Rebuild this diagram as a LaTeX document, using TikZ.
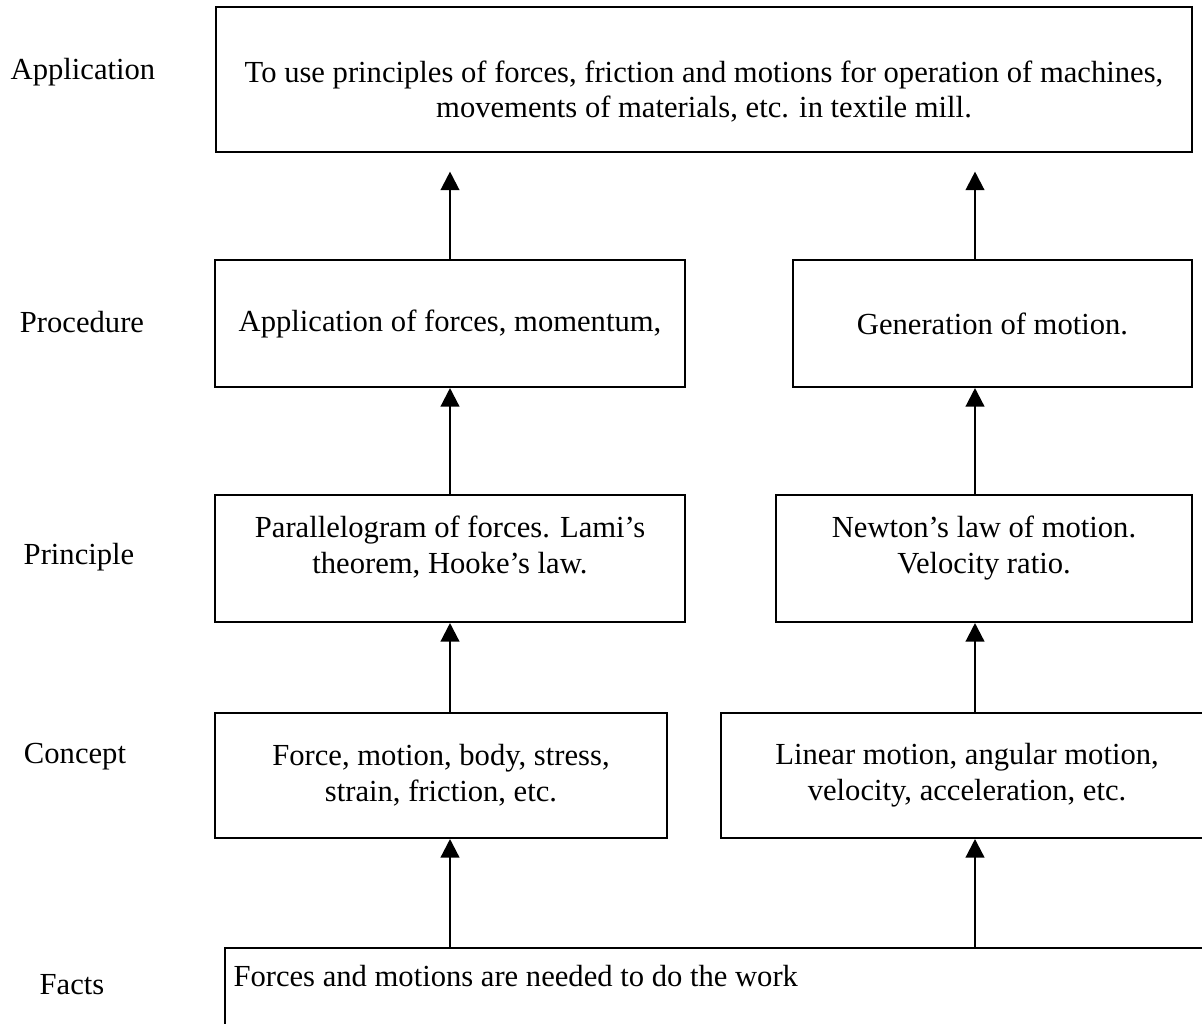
\documentclass[tikz,border=0pt]{standalone}
\usepackage{fontspec}
\setmainfont{Liberation Serif}
\usetikzlibrary{arrows.meta, positioning}

\begin{document}
\begin{tikzpicture}[x=0.392pt,y=-0.392pt,>={Triangle[width=7.4pt,length=7.3pt]},
        every node/.style={font=\fontsize{12}{14}\selectfont},
        level/.style={inner sep=0pt},
        box/.style={draw, line width=0.8pt, inner sep=0pt, align=center, minimum height=49.8pt},
        up/.style={->, line width=0.6pt}]

  \useasboundingbox (0,0) rectangle (1202,1023);
  \clip (0,0) rectangle (1202,1023);

  % level names on the left
  \node[level] (app)   at (83,72)  {Application};
  \node[level] (proc)  at (82,322) {Procedure};
  \node[level] (prin)  at (79,557) {Principle};
  \node[level] (conc)  at (75,757) {Concept};
  \node[level] (fact)  at (72,985) {Facts};

  % boxes
  \node[box, minimum width=382.6pt, minimum height=56.8pt] (goal) at (704,79.5)
    {\mbox{}\\[4pt]To use principles of forces, friction and motions for operation of machines,\\
     movements of materials, etc. in textile mill.};
  \node[box, minimum width=184.2pt] (procL) at (450,323.5) {Application of forces, momentum,};
  \node[box, minimum width=156.4pt] (procR) at (992.5,323.5) {Generation of motion.};
  \node[box, minimum width=184.2pt] (prinL) at (450,558.5)
    {Parallelogram of forces. Lami’s\\ theorem, Hooke’s law.\\[-3pt]\mbox{}};
  \node[box, minimum width=163.1pt] (prinR) at (984,558.5)
    {Newton’s law of motion.\\ Velocity ratio.\\[-3pt]\mbox{}};
  \node[box, minimum width=177.2pt, minimum height=49pt] (concL) at (441,775.5)
    {Force, motion, body, stress,\\ strain, friction, etc.};
  \node[box, minimum width=192.9pt, minimum height=49pt] (concR) at (967,775.5)
    {Linear motion, angular motion,\\ velocity, acceleration, etc.};
  \node[box, minimum width=397.9pt, minimum height=43.9pt] (facts) at (732.5,1004) {};
  \node[level, anchor=west] (factText) at (233,976) {Forces and motions are needed to do the work};

  % arrow columns
  \coordinate (colL) at (450,0);
  \coordinate (colR) at (975,0);

  \draw[up] (facts.north -| colL) -- (concL.south -| colL);
  \draw[up] (facts.north -| colR) -- (concR.south -| colR);
  \draw[up] (concL.north -| colL) -- (prinL.south -| colL);
  \draw[up] (concR.north -| colR) -- (prinR.south -| colR);
  \draw[up] (prinL.north -| colL) -- (procL.south -| colL);
  \draw[up] (prinR.north -| colR) -- (procR.south -| colR);
  \draw[up] (procL.north -| colL) -- ([yshift=-7.3pt]goal.south -| colL);
  \draw[up] (procR.north -| colR) -- ([yshift=-7.3pt]goal.south -| colR);
\end{tikzpicture}
\end{document}
